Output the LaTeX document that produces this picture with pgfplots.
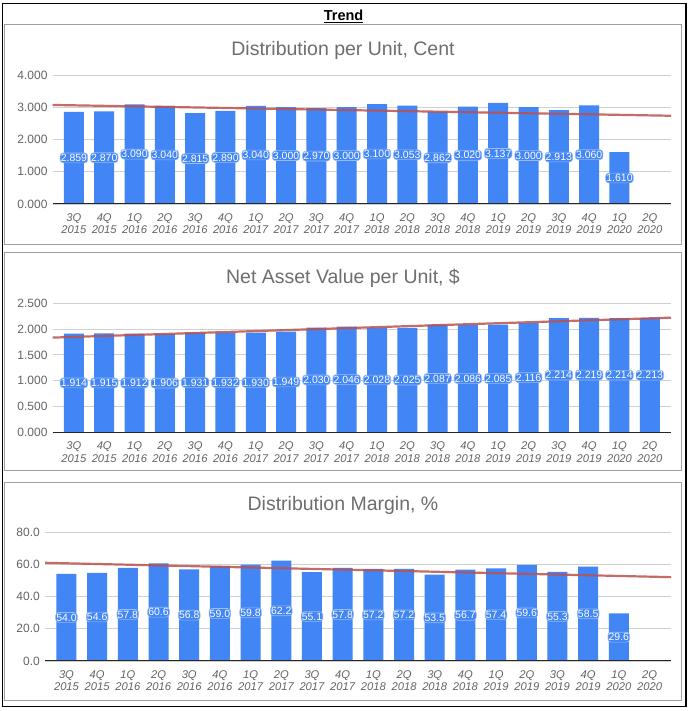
\documentclass[border=0pt]{standalone}
\usepackage{pgfplots}
\pgfplotsset{compat=1.18}
\usepackage{pgfplotstable}
\usepackage{fontspec}
\setmainfont{Liberation Sans}
\definecolor{barblue}{RGB}{66,133,244}
\definecolor{gridgray}{RGB}{208,208,208}
\definecolor{txtgray}{RGB}{100,100,100}
\definecolor{titlegray}{RGB}{110,110,110}
\definecolor{trendred}{RGB}{188,82,78}
\definecolor{boxgray}{RGB}{160,160,160}

\pgfplotstableread{
x y
0 2.859
1 2.870
2 3.090
3 3.040
4 2.815
5 2.890
6 3.040
7 3.000
8 2.970
9 3.000
10 3.100
11 3.053
12 2.862
13 3.020
14 3.137
15 3.000
16 2.913
17 3.060
18 1.610
}\dpu

\pgfplotstableread{
x y
0 1.914
1 1.915
2 1.912
3 1.906
4 1.931
5 1.932
6 1.930
7 1.949
8 2.030
9 2.046
10 2.028
11 2.025
12 2.087
13 2.086
14 2.085
15 2.116
16 2.214
17 2.219
18 2.214
19 2.213
}\nav

\pgfplotstableread{
x y
0 54.0
1 54.6
2 57.8
3 60.6
4 56.8
5 59.0
6 59.8
7 62.2
8 55.1
9 57.8
10 57.2
11 57.2
12 53.5
13 56.7
14 57.4
15 59.6
16 55.3
17 58.5
18 29.6
}\margin

\pgfplotsset{
  trendpanel/.style={
    scale only axis,
    anchor=south west,
    xmin=-0.7, xmax=19.7,
    ymin=0,
    height=129pt,
    axis line style={draw=none},
    major tick length=0pt,
    ymajorgrids,
    grid style={gridgray, line width=0.8pt},
    xtick={0,...,19},
    xticklabels={{3Q\\2015},{4Q\\2015},{1Q\\2016},{2Q\\2016},{3Q\\2016},{4Q\\2016},{1Q\\2017},{2Q\\2017},{3Q\\2017},{4Q\\2017},{1Q\\2018},{2Q\\2018},{3Q\\2018},{4Q\\2018},{1Q\\2019},{2Q\\2019},{3Q\\2019},{4Q\\2019},{1Q\\2020},{2Q\\2020}},
    xticklabel style={align=center, font=\fontsize{11.2}{12.8}\selectfont\itshape, text=txtgray, inner ysep=1pt, yshift=-8pt},
    yticklabel style={font=\fontsize{12}{14}\selectfont, text=txtgray, inner xsep=1pt, xshift=-4pt},
    /pgf/number format/assume math mode=true,
  },
  barstyle/.style={ybar, bar width=20pt, bar shift=0pt, fill=barblue, draw=none},
  labstyle/.style={draw=none,
    point meta=explicit,
    nodes near coords style={font=\fontsize{10.5}{11}\selectfont, text=white, fill=barblue,
      draw=white!45!barblue, line width=0.6pt, rounded corners=3pt, inner xsep=0.6pt, inner ysep=1.2pt, anchor=center},
  },
  trendstyle/.style={trendred, line width=2.2pt, opacity=0.85},
}

\begin{document}
\begin{tikzpicture}
\fill[white] (0pt,0pt) rectangle (691pt,711pt);
\path[use as bounding box] (0pt,0pt) rectangle (691pt,711pt);

% outer border
\draw[black, line width=1.3pt] (2.7pt,4.3pt) rectangle (686pt,707.7pt);
% panel boxes
\draw[boxgray, line width=1pt] (4.3pt,466pt) rectangle (681pt,686pt);
\draw[boxgray, line width=1pt] (4.3pt,240.5pt) rectangle (681pt,458.3pt);
\draw[boxgray, line width=1pt] (4.3pt,10.3pt) rectangle (681pt,228.3pt);

\node[anchor=base, font=\fontsize{14.5}{16}\selectfont\bfseries] at (343.6pt,690.3pt) {\underline{Trend}};

\node[anchor=base, font=\fontsize{19.5}{22}\selectfont, text=titlegray] at (343pt,655pt) {Distribution per Unit, Cent};
\node[anchor=base, font=\fontsize{19.5}{22}\selectfont, text=titlegray] at (343pt,427.7pt) {Net Asset Value per Unit, \$};
\node[anchor=base, font=\fontsize{19.5}{22}\selectfont, text=titlegray] at (343pt,200.3pt) {Distribution Margin, \%};

% Panel 1
\begin{axis}[trendpanel, at={(52.7pt,507pt)}, width=618.3pt, ymax=4, ytick={0,1,2,3,4},
  yticklabel={\pgfmathprintnumber[fixed,fixed zerofill,precision=3]{\tick}}]
\addplot[barstyle] table[x=x,y=y] {\dpu};
\draw[black!85, line width=1pt] (rel axis cs:0,0) -- (rel axis cs:1,0);
\addplot[trendstyle] coordinates {(-0.7,3.071) (19.7,2.736)};
\addplot[labstyle, nodes near coords={\pgfmathprintnumber[fixed,fixed zerofill,precision=3]{\pgfplotspointmeta}}]
  table[x=x, y expr=\thisrow{y}/2, meta=y] {\dpu};
\end{axis}

% Panel 2
\begin{axis}[trendpanel, at={(52.7pt,278.7pt)}, width=618.3pt, ymax=2.5, ytick={0,0.5,1,1.5,2,2.5},
  yticklabel={\pgfmathprintnumber[fixed,fixed zerofill,precision=3]{\tick}}]
\addplot[barstyle] table[x=x,y=y] {\nav};
\draw[black!85, line width=1pt] (rel axis cs:0,0) -- (rel axis cs:1,0);
\addplot[trendstyle] coordinates {(-0.7,1.835) (19.7,2.222)};
\addplot[labstyle, nodes near coords={\pgfmathprintnumber[fixed,fixed zerofill,precision=3]{\pgfplotspointmeta}}]
  table[x=x, y expr=\thisrow{y}/2, meta=y] {\nav};
\end{axis}

% Panel 3
\begin{axis}[trendpanel, at={(45pt,50pt)}, width=626pt, ymax=80, ytick={0,20,40,60,80},
  yticklabel={\pgfmathprintnumber[fixed,fixed zerofill,precision=1]{\tick}}]
\addplot[barstyle] table[x=x,y=y] {\margin};
\draw[black!85, line width=1pt] (rel axis cs:0,0) -- (rel axis cs:1,0);
\addplot[trendstyle] coordinates {(-0.7,60.9) (19.7,52.0)};
\addplot[labstyle, nodes near coords={\pgfmathprintnumber[fixed,fixed zerofill,precision=1]{\pgfplotspointmeta}}]
  table[x=x, y expr=\thisrow{y}/2, meta=y] {\margin};
\end{axis}
\end{tikzpicture}
\end{document}
